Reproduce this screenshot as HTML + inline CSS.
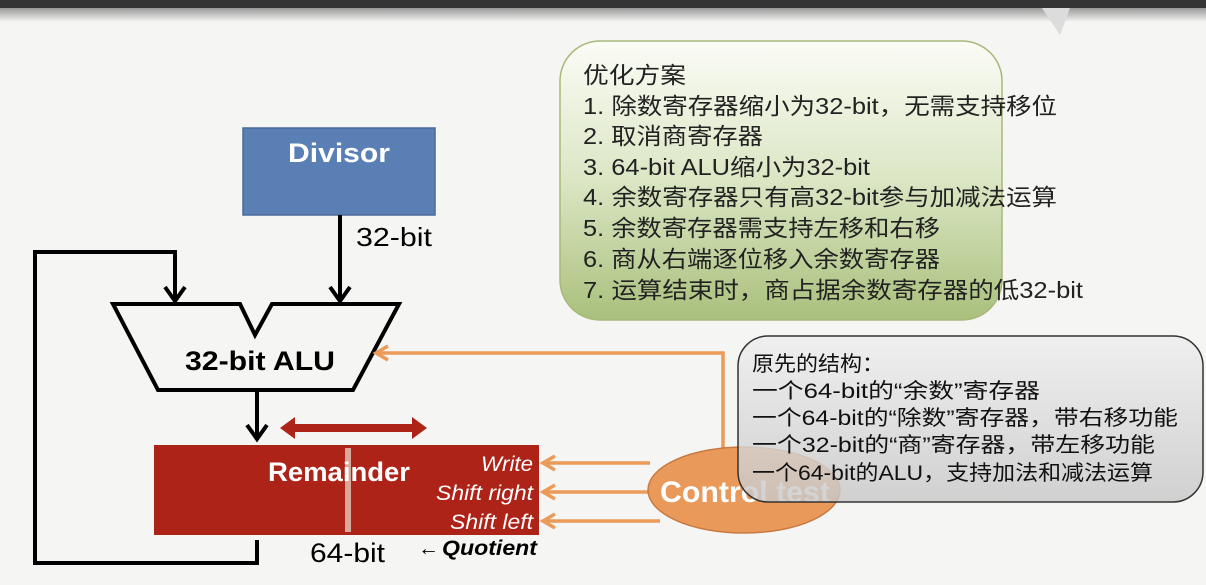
<!DOCTYPE html>
<html><head><meta charset="utf-8"><style>
html,body{margin:0;padding:0;}
body{width:1206px;height:580px;overflow:hidden;background:#f5f5f3;font-family:"Liberation Sans","Noto Sans CJK SC",sans-serif;}
</style></head><body>
<svg width="1206" height="580" viewBox="0 0 1206 580" xmlns="http://www.w3.org/2000/svg" font-family="Liberation Sans, Noto Sans CJK SC, sans-serif">
<defs>
<linearGradient id="top" x1="0" y1="0" x2="0" y2="1"><stop offset="0" stop-color="#9a9a9a"/><stop offset="1" stop-color="#f5f5f3"/></linearGradient>
<linearGradient id="grn" x1="0" y1="0" x2="0" y2="1"><stop offset="0" stop-color="#fbfcf6"/><stop offset="0.5" stop-color="#dbe6c4"/><stop offset="1" stop-color="#a9c07c"/></linearGradient>
<linearGradient id="gry" x1="0" y1="0" x2="0" y2="1"><stop offset="0" stop-color="#eeeeee"/><stop offset="1" stop-color="#c8c8c8"/></linearGradient>
</defs>
<rect width="1206" height="580" fill="#f5f5f3"/>
<rect width="1206" height="8" fill="#353535"/>
<rect y="8" width="1206" height="14" fill="url(#top)"/>
<polygon points="1042,8 1070,8 1060,35" fill="#dcdcdc"/>
<!-- green box -->
<rect x="560" y="41" width="442" height="279" rx="40" fill="url(#grn)" stroke="#a8b878" stroke-width="1.5"/>
<g font-size="23" fill="#222">
<text x="583" y="83" textLength="103" lengthAdjust="spacingAndGlyphs">优化方案</text>
<text x="583" y="114" textLength="474" lengthAdjust="spacingAndGlyphs">1. 除数寄存器缩小为32-bit，无需支持移位</text>
<text x="583" y="144" textLength="180" lengthAdjust="spacingAndGlyphs">2. 取消商寄存器</text>
<text x="583" y="175" textLength="287" lengthAdjust="spacingAndGlyphs">3. 64-bit ALU缩小为32-bit</text>
<text x="583" y="205" textLength="474" lengthAdjust="spacingAndGlyphs">4. 余数寄存器只有高32-bit参与加减法运算</text>
<text x="583" y="236" textLength="357" lengthAdjust="spacingAndGlyphs">5. 余数寄存器需支持左移和右移</text>
<text x="583" y="267" textLength="357" lengthAdjust="spacingAndGlyphs">6. 商从右端逐位移入余数寄存器</text>
<text x="583" y="298" textLength="500" lengthAdjust="spacingAndGlyphs">7. 运算结束时，商占据余数寄存器的低32-bit</text>
</g>
<!-- Divisor -->
<rect x="243" y="128" width="192" height="87" fill="#5a7fb5" stroke="#4a6a9a" stroke-width="1.5"/>
<text x="288" y="162" font-size="27" font-weight="bold" fill="#fff" textLength="102" lengthAdjust="spacingAndGlyphs">Divisor</text>
<text x="356" y="246" font-size="26" fill="#000" textLength="76" lengthAdjust="spacingAndGlyphs">32-bit</text>
<!-- lines -->
<g stroke="#000" stroke-width="4" fill="none">
<polyline points="340,215 340,300"/>
<polyline points="330,287 340,301 350,287"/>
<polyline points="257,540 257,563 35,563 35,252 175,252 175,300"/>
<polyline points="165,287 175,301 185,287"/>
<polyline points="257,390 257,438"/>
<polyline points="247,425 257,439 267,425"/>
<polygon points="113,304 240,304 255,335 272,304 399,304 353,390 158,390" fill="#f5f5f3"/>
</g>
<text x="185" y="370" font-size="27" font-weight="bold" fill="#000" textLength="150" lengthAdjust="spacingAndGlyphs">32-bit ALU</text>
<!-- orange control -->
<g stroke="#eb9a58" stroke-width="3.5" fill="none">
<polyline points="723,450 723,353 376,353"/>
<polyline points="388,346 376,353 388,360"/>
<line x1="650" y1="463" x2="543" y2="463"/><polyline points="555,456 543,463 555,470"/>
<line x1="650" y1="492" x2="543" y2="492"/><polyline points="555,485 543,492 555,499"/>
<line x1="660" y1="521" x2="543" y2="521"/><polyline points="555,514 543,521 555,528"/>
</g>
<!-- remainder -->
<rect x="154" y="445" width="385" height="90" fill="#ae2318"/>
<rect x="345" y="448" width="6" height="84" fill="#d9a89a"/>
<text x="268" y="481" font-size="27" font-weight="bold" fill="#fff" textLength="142" lengthAdjust="spacingAndGlyphs">Remainder</text>
<g font-size="21" font-style="italic" fill="#fff">
<text x="481" y="471" textLength="52" lengthAdjust="spacingAndGlyphs">Write</text>
<text x="436" y="500" textLength="97" lengthAdjust="spacingAndGlyphs">Shift right</text>
<text x="450" y="529" textLength="83" lengthAdjust="spacingAndGlyphs">Shift left</text>
</g>
<polygon points="280,428 295,417 295,424 412,424 412,417 427,428 412,439 412,432 295,432 295,439" fill="#ae2318"/>
<text x="310" y="562" font-size="27" fill="#000" textLength="75" lengthAdjust="spacingAndGlyphs">64-bit</text>
<text x="418" y="555" font-size="21" fill="#000">←</text>
<text x="442" y="555" font-size="21" fill="#000" font-weight="bold" font-style="italic" textLength="95" lengthAdjust="spacingAndGlyphs">Quotient</text>
<!-- ellipse -->
<ellipse cx="744" cy="490" rx="96" ry="43" fill="#e9995a" stroke="#c97a40" stroke-width="1.5"/>
<text x="660" y="502" font-size="30" font-weight="bold" fill="#fff" textLength="170" lengthAdjust="spacingAndGlyphs">Control test</text>
<!-- gray box -->
<rect x="738" y="336" width="465" height="166" rx="30" fill="url(#gry)" fill-opacity="0.82" stroke="#333" stroke-width="1.5"/>
<g font-size="21" fill="#111">
<text x="752" y="371" textLength="132" lengthAdjust="spacingAndGlyphs">原先的结构：</text>
<text x="752" y="398" textLength="288" lengthAdjust="spacingAndGlyphs">一个64-bit的“余数”寄存器</text>
<text x="752" y="425" textLength="426" lengthAdjust="spacingAndGlyphs">一个64-bit的“除数”寄存器，带右移功能</text>
<text x="752" y="452" textLength="403" lengthAdjust="spacingAndGlyphs">一个32-bit的“商”寄存器，带左移功能</text>
<text x="752" y="480" textLength="401" lengthAdjust="spacingAndGlyphs">一个64-bit的ALU，支持加法和减法运算</text>
</g>
</svg>
</body></html>
